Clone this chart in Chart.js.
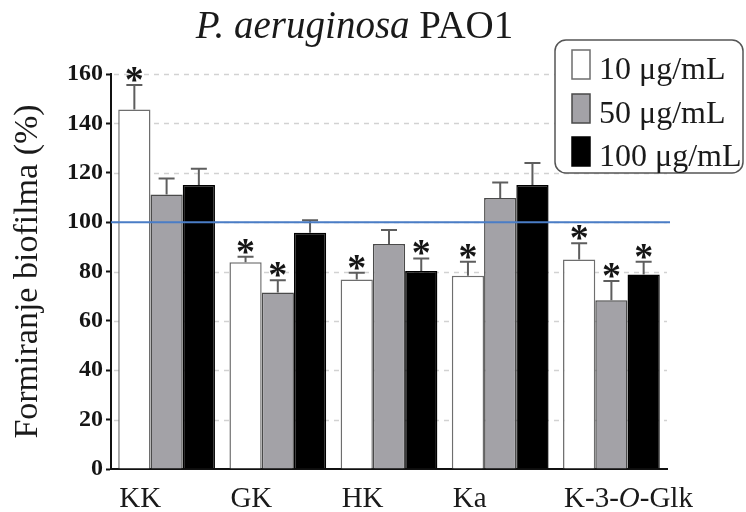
<!DOCTYPE html>
<html><head><meta charset="utf-8">
<script src="https://cdn.jsdelivr.net/npm/chart.js@4/dist/chart.umd.min.js"></script>
<style>html,body{margin:0;padding:0;background:#fff}</style>
</head><body>
<canvas id="c" width="746" height="512" style="width:746px;height:512px;display:block"></canvas>
<script>
const titleItalic = 'P. aeruginosa';
const titleRegular = 'PAO1';
const yAxisTitle = 'Formiranje biofilma (%)';
const categories = ['KK', 'GK', 'HK', 'Ka', 'K-3-O-Glk'];
const seriesLabels = ['10 μg/mL', '50 μg/mL', '100 μg/mL'];
const values10 = [145.6, 83.7, 76.8, 78.3, 84.9];
const values50 = [111.2, 71.5, 91.1, 109.8, 68.4];
const values100 = [115.0, 95.7, 80.2, 115.0, 78.8];
const err10 = [9.9, 2.3, 2.7, 5.6, 6.5];
const err50 = [6.5, 5.0, 5.7, 6.3, 7.8];
const err100 = [6.6, 5.1, 5.1, 9.0, 5.1];
const sig10 = [true, true, true, true, true];
const sig50 = [false, true, false, false, true];
const sig100 = [false, false, true, false, true];
const yTicks = [0, 20, 40, 60, 80, 100, 120, 140, 160];
const referenceLine = 100;

const SERIF = '"Liberation Serif", "Times New Roman", serif';

const datasets = [
  {label: seriesLabels[0], data: values10, errors: err10, sig: sig10, backgroundColor: '#ffffff', borderColor: '#6e6e6e'},
  {label: seriesLabels[1], data: values50, errors: err50, sig: sig50, backgroundColor: '#a3a2a7', borderColor: '#4a4a4a'},
  {label: seriesLabels[2], data: values100, errors: err100, sig: sig100, backgroundColor: '#000000', borderColor: '#000000'}
].map(d => Object.assign(d, {borderWidth: 1.5, barPercentage: 1.0, categoryPercentage: 0.87}));

const overlay = {
  id: 'overlay',
  beforeDatasetsDraw(chart) {
    const ctx = chart.ctx, y = chart.scales.y, a = chart.chartArea;
    ctx.save();
    ctx.strokeStyle = '#d2d2d2';
    ctx.lineWidth = 1.5;
    ctx.setLineDash([5, 5]);
    yTicks.forEach(v => {
      if (v === 0) return;
      const py = Math.round(y.getPixelForValue(v)) + 0.5;
      ctx.beginPath(); ctx.moveTo(a.left + 3, py); ctx.lineTo(a.right, py); ctx.stroke();
    });
    ctx.restore();
  },
  afterDatasetsDraw(chart) {
    const ctx = chart.ctx, y = chart.scales.y, a = chart.chartArea;
    ctx.save();
    chart.data.datasets.forEach((ds, di) => {
      const meta = chart.getDatasetMeta(di);
      meta.data.forEach((bar, i) => {
        const yt = y.getPixelForValue(ds.data[i] + ds.errors[i]);
        ctx.strokeStyle = '#5e5e5e';
        ctx.lineWidth = 2;
        ctx.beginPath();
        ctx.moveTo(bar.x, bar.y); ctx.lineTo(bar.x, yt);
        ctx.moveTo(bar.x - 8, yt); ctx.lineTo(bar.x + 8, yt);
        ctx.stroke();
        if (ds.sig[i]) {
          ctx.fillStyle = '#151515';
          ctx.font = 'bold 38px ' + SERIF;
          ctx.textAlign = 'center';
          ctx.textBaseline = 'alphabetic';
          ctx.fillText('*', bar.x, yt + 7);
        }
      });
    });
    const yr = y.getPixelForValue(referenceLine);
    ctx.strokeStyle = '#4a7dc6';
    ctx.lineWidth = 2;
    ctx.beginPath(); ctx.moveTo(a.left, yr); ctx.lineTo(a.right + 3, yr); ctx.stroke();
    ctx.restore();
  },
  afterDraw(chart) {
    const ctx = chart.ctx, a = chart.chartArea;
    ctx.save();
    ctx.fillStyle = '#1a1a1a';
    ctx.textBaseline = 'alphabetic';
    ctx.textAlign = 'left';
    const fi = 'italic 39px ' + SERIF, fr = '39px ' + SERIF;
    ctx.font = fi; const w1 = ctx.measureText(titleItalic + ' ').width;
    ctx.font = fr; const w2 = ctx.measureText(titleRegular).width;
    let tx = 354.5 - (w1 + w2) / 2;
    ctx.font = fi; ctx.fillText(titleItalic + ' ', tx, 38);
    ctx.font = fr; ctx.fillText(titleRegular, tx + w1, 38);
    ctx.save();
    ctx.translate(28, (a.top + a.bottom) / 2);
    ctx.rotate(-Math.PI / 2);
    ctx.textAlign = 'center';
    ctx.textBaseline = 'middle';
    ctx.font = '34px ' + SERIF;
    ctx.fillText(yAxisTitle, 0, 0);
    ctx.restore();
    const meta0 = chart.getDatasetMeta(0);
    categories.forEach((lab, i) => {
      const bar = meta0.data[i];
      let x = bar.x - bar.width / 2 + 1;
      const parts = lab.split('-');
      parts.forEach((p, k) => {
        const seg = p + (k < parts.length - 1 ? '-' : '');
        if (p === 'O') {
          ctx.font = 'italic 29px ' + SERIF; ctx.fillText(p, x, a.bottom + 38); x += ctx.measureText(p).width;
          if (k < parts.length - 1) { ctx.font = '29px ' + SERIF; ctx.fillText('-', x, a.bottom + 38); x += ctx.measureText('-').width; }
        } else {
          ctx.font = '29px ' + SERIF; ctx.fillText(seg, x, a.bottom + 38); x += ctx.measureText(seg).width;
        }
      });
    });
    const lx = 555, ly = 40, lw = 188, lh = 133, r = 11;
    ctx.beginPath();
    ctx.moveTo(lx + r, ly); ctx.lineTo(lx + lw - r, ly); ctx.arcTo(lx + lw, ly, lx + lw, ly + r, r);
    ctx.lineTo(lx + lw, ly + lh - r); ctx.arcTo(lx + lw, ly + lh, lx + lw - r, ly + lh, r);
    ctx.lineTo(lx + r, ly + lh); ctx.arcTo(lx, ly + lh, lx, ly + lh - r, r);
    ctx.lineTo(lx, ly + r); ctx.arcTo(lx, ly, lx + r, ly, r);
    ctx.closePath();
    ctx.fillStyle = '#ffffff'; ctx.fill();
    ctx.strokeStyle = '#555555'; ctx.lineWidth = 1.5; ctx.stroke();
    const rowTop = [50, 94, 137];
    chart.data.datasets.forEach((ds, i) => {
      ctx.fillStyle = ds.backgroundColor;
      ctx.fillRect(572, rowTop[i], 18, 29);
      ctx.strokeStyle = ds.borderColor; ctx.lineWidth = 1.5;
      ctx.strokeRect(572, rowTop[i], 18, 29);
      ctx.fillStyle = '#1a1a1a';
      ctx.font = '32px ' + SERIF;
      ctx.textAlign = 'left'; ctx.textBaseline = 'alphabetic';
      ctx.fillText(ds.label, 599, rowTop[i] + 29);
    });
    ctx.restore();
  }
};

new Chart(document.getElementById('c'), {
  type: 'bar',
  data: {labels: categories, datasets: datasets},
  options: {
    responsive: false,
    animation: false,
    devicePixelRatio: 1,
    layout: {padding: {left: 0, right: 79, top: 74, bottom: 0}},
    plugins: {legend: {display: false}, title: {display: false}, tooltip: {enabled: false}},
    scales: {
      x: {
        grid: {display: false},
        ticks: {display: false},
        border: {display: true, color: '#111', width: 2},
        afterFit(s) { s.height = 43; }
      },
      y: {
        min: 0, max: 160,
        afterBuildTicks(s) { s.ticks = yTicks.map(v => ({value: v})); },
        ticks: {font: {family: SERIF, size: 24, weight: 'bold'}, color: '#151515', padding: 3},
        grid: {drawOnChartArea: false, drawTicks: true, tickLength: 5, tickColor: '#111', tickWidth: 2},
        border: {display: true, color: '#111', width: 2},
        afterFit(s) { s.width = 111; }
      }
    }
  },
  plugins: [overlay]
});
</script>
</body></html>
